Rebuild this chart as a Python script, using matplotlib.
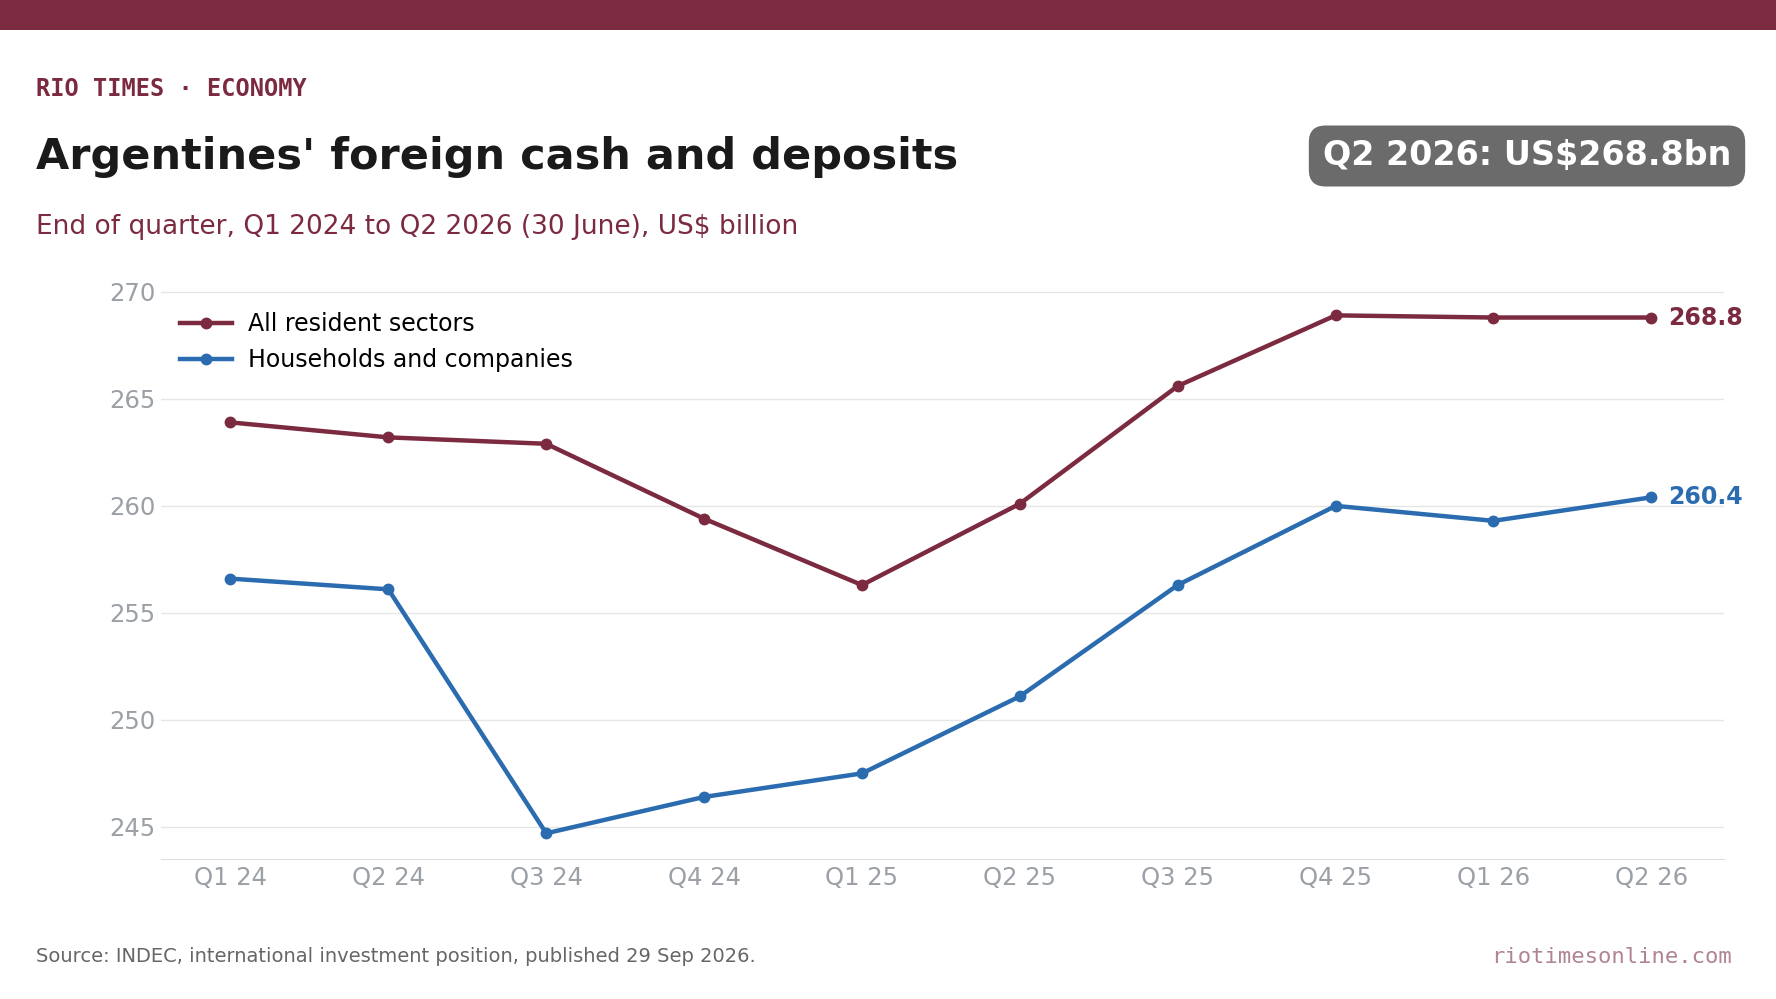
import numpy as np
import matplotlib
matplotlib.use('Agg')
import matplotlib.pyplot as plt
from matplotlib.patches import Rectangle

# Dades (US$ mil milions, final de trimestre)
quarters = ['Q1 24', 'Q2 24', 'Q3 24', 'Q4 24', 'Q1 25', 'Q2 25', 'Q3 25', 'Q4 25', 'Q1 26', 'Q2 26']
all_resident = [263.9, 263.2, 262.9, 259.4, 256.3, 260.1, 265.6, 268.9, 268.8, 268.8]
households = [256.6, 256.1, 244.7, 246.4, 247.5, 251.1, 256.3, 260.0, 259.3, 260.4]
series_names = ['All resident sectors', 'Households and companies']
y_ticks = [245, 250, 255, 260, 265, 270]

maroon = '#7b2a3f'
blue = '#2b6cb0'
tick_grey = '#9aa0a6'

W, H = 1776, 999
fig = plt.figure(figsize=(W / 100, H / 100), dpi=100)
fig.patch.set_facecolor('white')

# barra superior
fig.patches.append(Rectangle((0, 1 - 30 / H), 1, 30 / H, transform=fig.transFigure,
                             facecolor=maroon, edgecolor='none'))

# capçalera
fig.text(36 / W, 1 - 89 / H, 'RIO TIMES · ECONOMY', family='DejaVu Sans Mono', weight='bold',
         fontsize=17, color=maroon, va='center', ha='left')
fig.text(36 / W, 1 - 157 / H, "Argentines' foreign cash and deposits", weight='bold',
         fontsize=31, color='#1a1a1a', va='center', ha='left')
fig.text(36 / W, 1 - 227 / H, 'End of quarter, Q1 2024 to Q2 2026 (30 June), US$ billion',
         fontsize=19, color=maroon, va='center', ha='left')
fig.text(1527 / W, 1 - 156 / H, f'Q2 2026: US${all_resident[-1]}bn', weight='bold',
         fontsize=24, color='white', va='center', ha='center',
         bbox=dict(boxstyle='round,pad=0.42,rounding_size=0.5', facecolor='#6b6b6b', edgecolor='none'))

# gràfic
ax = fig.add_axes([161 / W, 1 - 859 / H, (1724 - 161) / W, 580 / H])
x = np.arange(len(quarters))
ax.plot(x, all_resident, color=maroon, lw=3.2, marker='o', ms=7.5, label=series_names[0], zorder=3)
ax.plot(x, households, color=blue, lw=3.2, marker='o', ms=7.5, label=series_names[1], zorder=3)

ax.set_xlim(-0.44, len(quarters) - 1 + 0.46)
ax.set_ylim(243.5, 270.6)
ax.set_xticks(x)
ax.set_xticklabels(quarters)
ax.set_yticks(y_ticks)
ax.tick_params(axis='both', length=0, labelsize=17.5, labelcolor=tick_grey)
ax.tick_params(axis='x', pad=5)
ax.tick_params(axis='y', pad=4)
ax.grid(axis='y', color='#e6e6e6', lw=1)
ax.set_axisbelow(True)
for s in ['top', 'left', 'right']:
    ax.spines[s].set_visible(False)
ax.spines['bottom'].set_color('#dddddd')

# etiquetes finals
ax.annotate(f'{all_resident[-1]:.1f}', (x[-1], all_resident[-1]), xytext=(12, 0),
            textcoords='offset points', color=maroon, weight='bold', fontsize=17,
            va='center', ha='left', annotation_clip=False)
ax.annotate(f'{households[-1]:.1f}', (x[-1], households[-1]), xytext=(12, 0),
            textcoords='offset points', color=blue, weight='bold', fontsize=17,
            va='center', ha='left', annotation_clip=False)

ax.legend(loc='upper left', frameon=False, fontsize=17, handlelength=2.2,
          handletextpad=0.7, labelspacing=0.5, borderaxespad=0.4, bbox_to_anchor=(0.0, 0.975))

# peu
fig.text(36 / W, 1 - 957 / H, 'Source: INDEC, international investment position, published 29 Sep 2026.',
         fontsize=14, color='#666666', va='center', ha='left')
fig.text(1732 / W, 1 - 957 / H, 'riotimesonline.com', family='DejaVu Sans Mono',
         fontsize=16, color='#b08593', va='center', ha='right')

plt.savefig('out.png', dpi=100)
